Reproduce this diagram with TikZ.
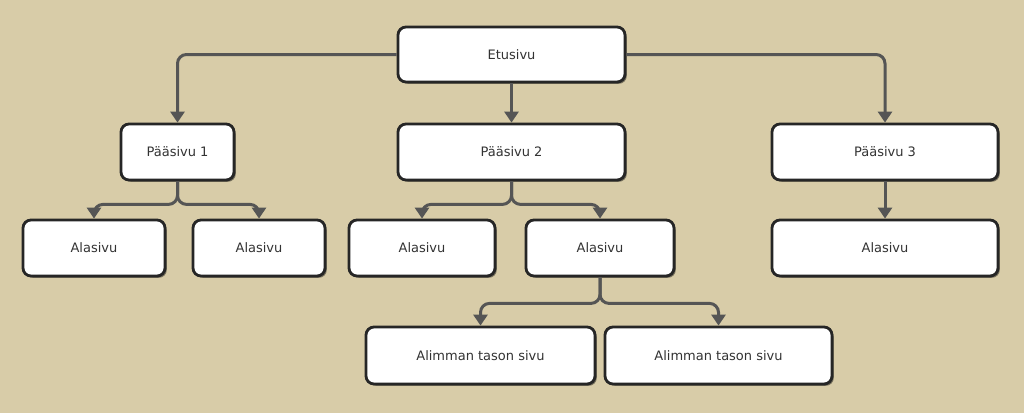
\documentclass[tikz,border=0pt]{standalone}
\usepackage{fontspec}
\setmainfont{DejaVu Sans}
\usetikzlibrary{shadows,arrows.meta}
\definecolor{paper}{HTML}{D8CCA8}
\definecolor{lineg}{HTML}{555555}
\definecolor{txt}{HTML}{333333}
\tikzset{
  page/.style={draw=black!85, line width=2.8pt, fill=white, rounded corners=8pt,
    text=txt, font=\fontsize{13}{15}\selectfont, anchor=center,
    drop shadow={shadow xshift=1.8pt, shadow yshift=-1.8pt, opacity=0.45, fill=black}},
  conn/.style={draw=lineg, line width=3pt, rounded corners=9pt,
    -{Triangle[length=11pt,width=14pt]}}
}
\begin{document}
\begin{tikzpicture}[x=1pt,y=-1pt]
\fill[paper] (0,0) rectangle (1024,413);
\useasboundingbox (0,0) rectangle (1024,413);
% boxes
\node[page, minimum width=227pt, minimum height=55pt] (et) at (511.5,54.5) {Etusivu};
\node[page, minimum width=113pt, minimum height=56pt] (p1) at (177.5,152) {Pääsivu 1};
\node[page, minimum width=227pt, minimum height=56pt] (p2) at (511.5,152) {Pääsivu 2};
\node[page, minimum width=226pt, minimum height=56pt] (p3) at (885,152) {Pääsivu 3};
\node[page, minimum width=142pt, minimum height=56pt] (a1) at (94,248) {Alasivu};
\node[page, minimum width=132pt, minimum height=56pt] (a2) at (259,248) {Alasivu};
\node[page, minimum width=146pt, minimum height=56pt] (a3) at (422,248) {Alasivu};
\node[page, minimum width=148pt, minimum height=56pt] (a4) at (600,248) {Alasivu};
\node[page, minimum width=226pt, minimum height=56pt] (a5) at (885,248) {Alasivu};
\node[page, minimum width=229pt, minimum height=57pt] (l1) at (480.5,355.5) {Alimman tason sivu};
\node[page, minimum width=227pt, minimum height=57pt] (l2) at (718.5,355.5) {Alimman tason sivu};
% connectors
\draw[conn] (et.west) -| (p1.north);
\draw[conn] (et.east) -| (p3.north);
\draw[conn] (et.south) -- (p2.north);
\draw[conn] (p1.south) -- ++(0,23) -| (a1.north);
\draw[conn] (p1.south) -- ++(0,23) -| (a2.north);
\draw[conn] (p2.south) -- ++(0,23) -| (a3.north);
\draw[conn] (p2.south) -- ++(0,23) -| (a4.north);
\draw[conn] (a4.south) -- ++(0,26) -| (l1.north);
\draw[conn] (a4.south) -- ++(0,26) -| (l2.north);
\draw[conn] (p3.south) -- (a5.north);
\end{tikzpicture}
\end{document}
